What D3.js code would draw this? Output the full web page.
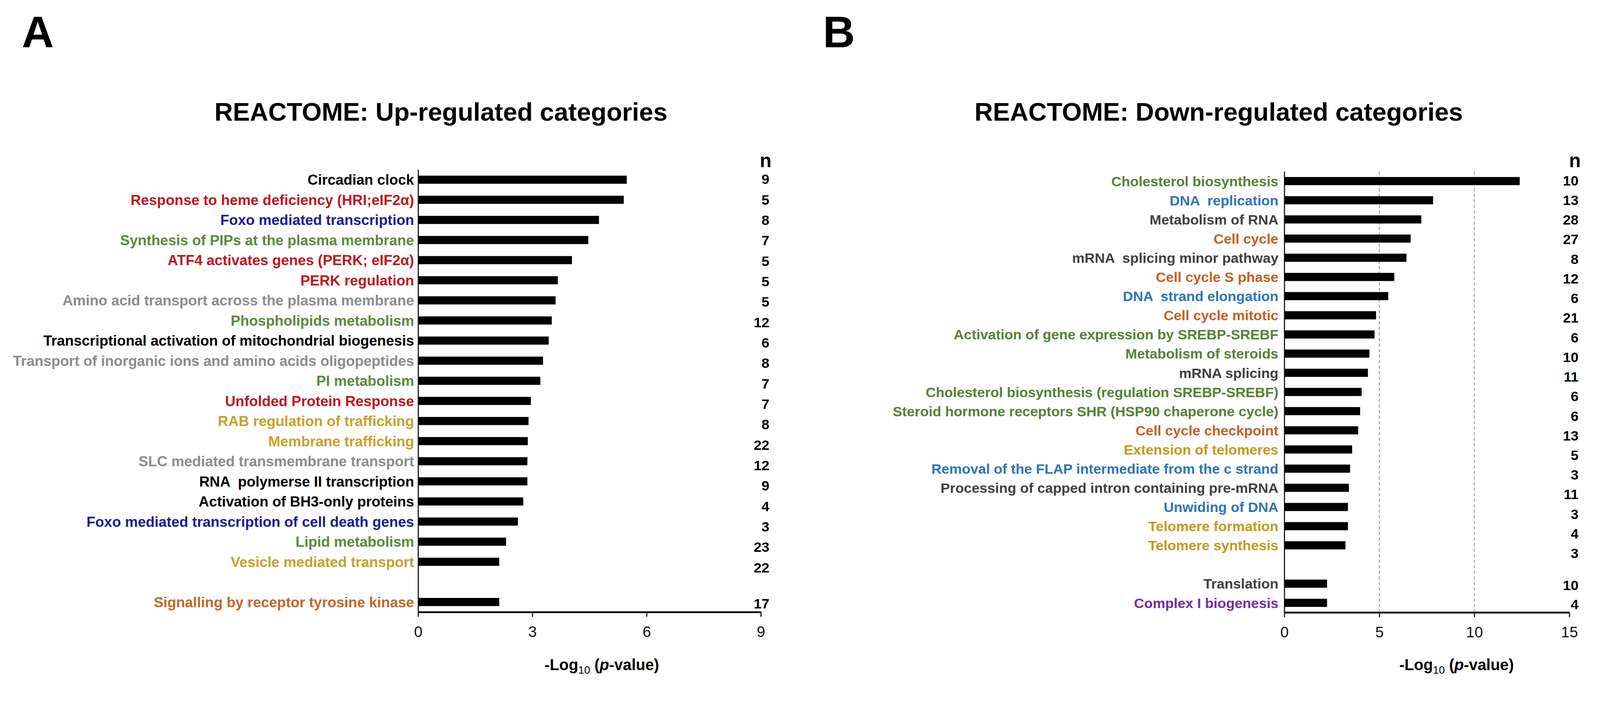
<!DOCTYPE html>
<html><head><meta charset="utf-8">
<script src="https://cdn.jsdelivr.net/npm/d3@7"></script>
<style>
html,body{margin:0;padding:0;width:100%;height:100%;overflow:hidden;background:#fff}
svg{display:block;width:100vw;height:100vh}
text{font-family:"Liberation Sans",Arial,Helvetica,sans-serif}
</style>
</head><body>
<svg id="chart" viewBox="0 0 4328 1859" preserveAspectRatio="xMinYMin meet"></svg>
<script>
// ---------- Panel A data ----------
const upCategories = [
  "Circadian clock",
  "Response to heme deficiency (HRI;eIF2α)",
  "Foxo mediated transcription",
  "Synthesis of PIPs at the plasma membrane",
  "ATF4 activates genes (PERK; eIF2α)",
  "PERK regulation",
  "Amino acid transport across the plasma membrane",
  "Phospholipids metabolism",
  "Transcriptional activation of mitochondrial biogenesis",
  "Transport of inorganic ions and amino acids oligopeptides",
  "PI metabolism",
  "Unfolded Protein Response",
  "RAB regulation of trafficking",
  "Membrane trafficking",
  "SLC mediated transmembrane transport",
  "RNA  polymerse II transcription",
  "Activation of BH3-only proteins",
  "Foxo mediated transcription of cell death genes",
  "Lipid metabolism",
  "Vesicle mediated transport",
  "Signalling by receptor tyrosine kinase"
];
const upValues = [5.48, 5.40, 4.75, 4.47, 4.04, 3.67, 3.61, 3.51, 3.43, 3.28, 3.21, 2.96, 2.90, 2.88, 2.87, 2.87, 2.76, 2.62, 2.31, 2.13, 2.13];
const upCounts = [9, 5, 8, 7, 5, 5, 5, 12, 6, 8, 7, 7, 8, 22, 12, 9, 4, 3, 23, 22, 17];
const upGroups = ["black","red","navy","green","red","red","gray","green","black","gray","green","red","gold","gold","gray","black","black","navy","green","gold","orange"];
const upTicks = [0, 3, 6, 9];

// ---------- Panel B data ----------
const downCategories = [
  "Cholesterol biosynthesis",
  "DNA  replication",
  "Metabolism of RNA",
  "Cell cycle",
  "mRNA  splicing minor pathway",
  "Cell cycle S phase",
  "DNA  strand elongation",
  "Cell cycle mitotic",
  "Activation of gene expression by SREBP-SREBF",
  "Metabolism of steroids",
  "mRNA splicing",
  "Cholesterol biosynthesis (regulation SREBP-SREBF)",
  "Steroid hormone receptors SHR (HSP90 chaperone cycle)",
  "Cell cycle checkpoint",
  "Extension of telomeres",
  "Removal of the FLAP intermediate from the c strand",
  "Processing of capped intron containing pre-mRNA",
  "Unwiding of DNA",
  "Telomere formation",
  "Telomere synthesis",
  "Translation",
  "Complex I biogenesis"
];
const downValues = [12.39, 7.83, 7.21, 6.65, 6.43, 5.79, 5.47, 4.83, 4.75, 4.48, 4.40, 4.07, 3.99, 3.89, 3.57, 3.46, 3.40, 3.35, 3.35, 3.22, 2.25, 2.25];
const downCounts = [10, 13, 28, 27, 8, 12, 6, 21, 6, 10, 11, 6, 6, 13, 5, 3, 11, 3, 4, 3, 10, 4];
const downGroups = ["green","blue","dgray","orange","dgray","orange","blue","orange","green","green","dgray","green","green","orange","gold","blue","dgray","blue","gold","gold","dgray","purple"];
const downTicks = [0, 5, 10, 15];
const downGrid = [5, 10];

const paletteA = {black:"#000000", red:"#c0161e", navy:"#1b1b96", green:"#5a8b3c", gray:"#8c8c8c", gold:"#c9a12b", orange:"#c5652a"};
const paletteB = {green:"#558235", blue:"#2e75b6", dgray:"#404040", orange:"#c55f24", gold:"#c29a1c", purple:"#7030a0"};

const svg = d3.select("#chart");

function drawPanel(cfg) {
  const g = svg.append("g");
  const keys = cfg.categories.map((c, i) => "k" + i);
  const domain = keys.slice(0, cfg.gapAt).concat(["gap"], keys.slice(cfg.gapAt));
  const y = d3.scaleBand().domain(domain).range(cfg.yRange).padding(0);
  const cy = i => y(keys[i]) + y.bandwidth() / 2;
  const x = d3.scaleLinear().domain([0, cfg.xMax]).range(cfg.xRange);
  const nY = d3.scaleLinear().domain([0, cfg.gapAt - 1]).range([cy(0) - 2, cy(cfg.gapAt - 1) + cfg.nDrift]);
  const rows = cfg.categories.map((c, i) => ({c, v: cfg.values[i], n: cfg.counts[i], grp: cfg.groups[i], i}));
  const barH = 22;

  // panel letter
  g.append("text").attr("x", cfg.letterX).attr("y", 128)
    .attr("font-size", 120).attr("font-weight", "bold").text(cfg.letter);
  // title
  g.append("text").attr("x", cfg.titleX).attr("y", 327)
    .attr("font-size", 69).attr("font-weight", "bold").text(cfg.title);

  // grid lines
  if (cfg.grid) {
    g.selectAll("line.grid").data(cfg.grid).join("line")
      .attr("x1", d => x(d)).attr("x2", d => x(d))
      .attr("y1", cfg.yRange[0]).attr("y2", cfg.yRange[1])
      .attr("stroke", "#8a8a8a").attr("stroke-width", 2)
      .attr("stroke-dasharray", "9,6");
  }

  // bars
  g.selectAll("rect.bar").data(rows).join("rect")
    .attr("x", x(0)).attr("y", d => cy(d.i) - barH / 2)
    .attr("width", d => x(d.v) - x(0)).attr("height", barH)
    .attr("fill", "#000");

  // category labels
  g.selectAll("text.lab").data(rows).join("text")
    .attr("x", x(0) - cfg.labelGap).attr("y", d => cy(d.i)).attr("dy", "0.36em")
    .attr("text-anchor", "end").attr("font-size", cfg.labelSize).attr("font-weight", "bold")
    .attr("fill", d => cfg.palette[d.grp]).style("white-space", "pre").text(d => d.c);

  // n column
  g.append("text").attr("x", cfg.nX + 6).attr("y", 452).attr("text-anchor", "end")
    .attr("font-size", 52).attr("font-weight", "bold").text("n");
  g.selectAll("text.n").data(rows).join("text")
    .attr("x", cfg.nX).attr("y", d => d.i < cfg.gapAt ? nY(d.i) : cy(d.i) + 4).attr("dy", "0.36em")
    .attr("text-anchor", "end").attr("font-size", 38).attr("font-weight", "bold").text(d => d.n);

  // axes
  const ax = g.append("g").attr("transform", `translate(0,${cfg.yRange[1]})`)
    .call(d3.axisBottom(x).tickValues(cfg.ticks).tickSize(13).tickSizeOuter(0).tickPadding(25));
  ax.select(".domain").attr("stroke", "#111").attr("stroke-width", 5);
  ax.selectAll(".tick line").attr("stroke", "#111").attr("stroke-width", 3);
  ax.selectAll(".tick text").attr("font-size", 41).attr("fill", "#111")
    .attr("font-family", '"Liberation Sans",Arial,sans-serif');

  const ay = g.append("g").attr("transform", `translate(${x(0)},0)`)
    .call(d3.axisLeft(y).tickValues([]).tickSizeOuter(0));
  ay.select(".domain").attr("stroke", "#111").attr("stroke-width", 3);

  // axis title
  const t = g.append("text").attr("x", cfg.axisTitleX).attr("y", 1813)
    .attr("text-anchor", "middle").attr("font-size", 42).attr("font-weight", "bold");
  t.append("tspan").text("-Log");
  t.append("tspan").attr("font-size", 29).attr("font-weight", "normal").attr("dy", 10).text("10");
  t.append("tspan").attr("dy", -10).text(" (");
  t.append("tspan").attr("font-style", "italic").text("p");
  t.append("tspan").text("-value)");
}

drawPanel({
  letter: "A", letterX: 59, title: "REACTOME: Up-regulated categories", titleX: 580,
  categories: upCategories, values: upValues, counts: upCounts, groups: upGroups,
  ticks: upTicks, xMax: 9, xRange: [1131, 2058], yRange: [459, 1656], gapAt: 20,
  labelGap: 11, labelSize: 39, nX: 2081, nDrift: 15, palette: paletteA,
  axisTitleX: 1628, grid: null
});
drawPanel({
  letter: "B", letterX: 2226, title: "REACTOME: Down-regulated categories", titleX: 2636,
  categories: downCategories, values: downValues, counts: downCounts, groups: downGroups,
  ticks: downTicks, xMax: 15, xRange: [3474, 4245], yRange: [464, 1657], gapAt: 20,
  labelGap: 16, labelSize: 38, nX: 4270, nDrift: 21, palette: paletteB,
  axisTitleX: 3940, grid: downGrid
});
</script>
</body></html>
